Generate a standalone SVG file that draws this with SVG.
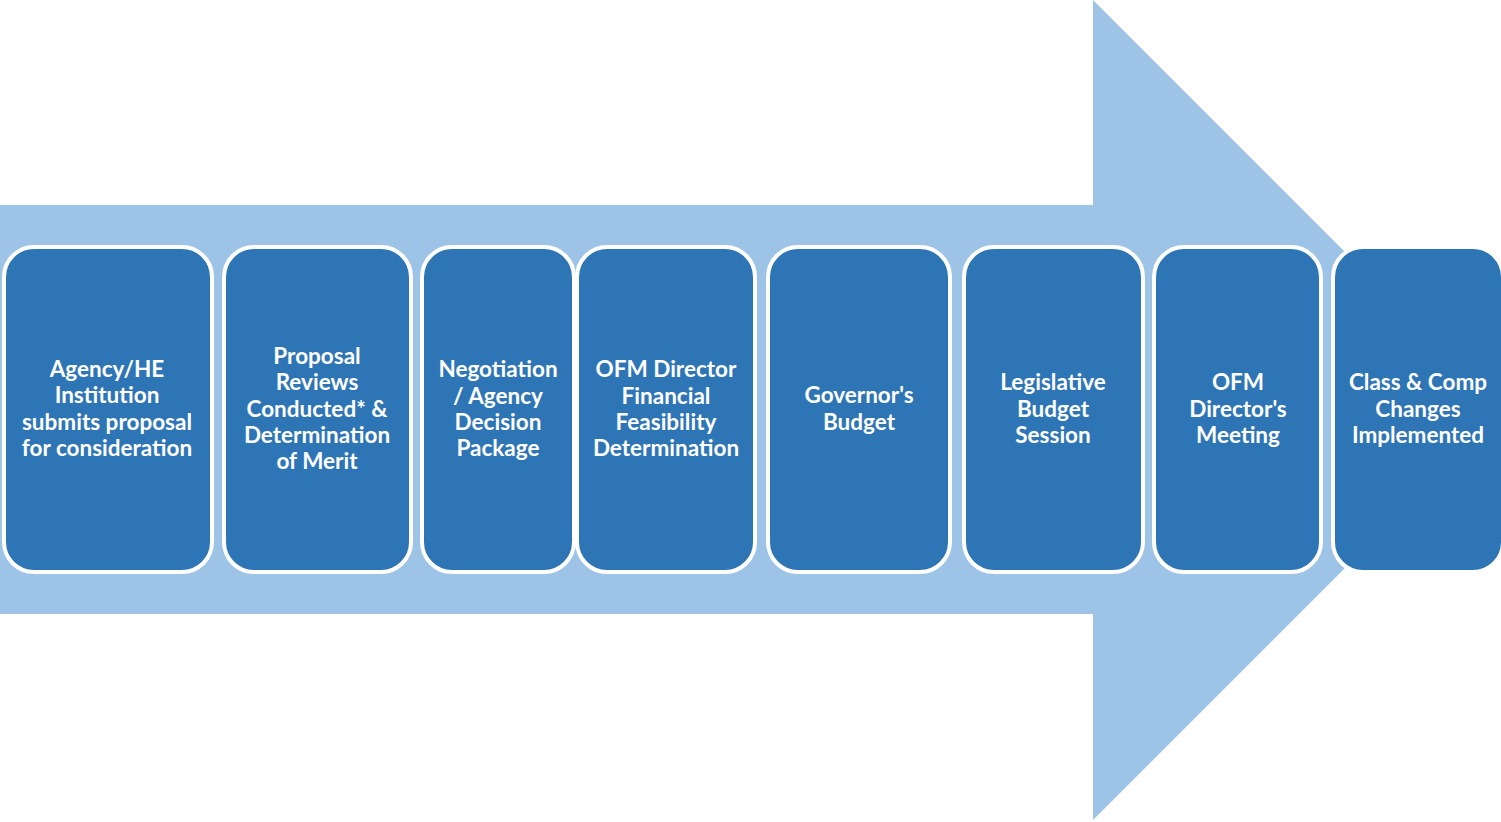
<svg xmlns="http://www.w3.org/2000/svg" width="1501" height="822" viewBox="0 0 1501 822">
<style>
.node rect{fill:#2E75B6;stroke:#FFFFFF;stroke-width:4}
.node text{font-family:Lato,"Open Sans","Liberation Sans",sans-serif;font-weight:bold;font-size:22.5px;fill:#FFFFFF;text-anchor:middle}
</style>
<rect width="1501" height="822" fill="#FFFFFF"/>
<g id="connectors">
<polygon id="arrow" points="0,205 1093,205 1093,0 1503,410 1093,820 1093,614 0,614" fill="#9DC3E6"/>
</g>
<g id="n1" class="node"><rect x="4" y="247" width="208" height="325" rx="30"/>
<text x="107"><tspan x="107" y="377">Agency/HE</tspan><tspan x="107" y="403">Institution</tspan><tspan x="107" y="430">submits proposal</tspan><tspan x="107" y="456">for consideration</tspan></text></g>
<g id="n2" class="node"><rect x="224" y="247" width="187" height="325" rx="30"/>
<text x="317"><tspan x="317" y="364">Proposal</tspan><tspan x="317" y="390">Reviews</tspan><tspan x="317" y="417">Conducted* &amp;</tspan><tspan x="317" y="443">Determination</tspan><tspan x="317" y="469">of Merit</tspan></text></g>
<g id="n3" class="node"><rect x="422" y="247" width="152" height="325" rx="30"/>
<text x="498"><tspan x="498" y="377">Negotiation</tspan><tspan x="498" y="404">/ Agency</tspan><tspan x="498" y="430">Decision</tspan><tspan x="498" y="456">Package</tspan></text></g>
<g id="n4" class="node"><rect x="577" y="247" width="178" height="325" rx="30"/>
<text x="666"><tspan x="666" y="377">OFM Director</tspan><tspan x="666" y="404">Financial</tspan><tspan x="666" y="430">Feasibility</tspan><tspan x="666" y="456">Determination</tspan></text></g>
<g id="n5" class="node"><rect x="768" y="247" width="182" height="325" rx="30"/>
<text x="859"><tspan x="859" y="403">Governor's</tspan><tspan x="859" y="430">Budget</tspan></text></g>
<g id="n6" class="node"><rect x="964" y="247" width="179" height="325" rx="30"/>
<text x="1053"><tspan x="1053" y="390">Legislative</tspan><tspan x="1053" y="417">Budget</tspan><tspan x="1053" y="443">Session</tspan></text></g>
<g id="n7" class="node"><rect x="1154" y="247" width="167" height="325" rx="30"/>
<text x="1238"><tspan x="1238" y="390">OFM</tspan><tspan x="1238" y="417">Director's</tspan><tspan x="1238" y="443">Meeting</tspan></text></g>
<g id="n8" class="node"><rect x="1333" y="247" width="170" height="325" rx="30"/>
<text x="1418"><tspan x="1418" y="390">Class &amp; Comp</tspan><tspan x="1418" y="417">Changes</tspan><tspan x="1418" y="443">Implemented</tspan></text></g>
</svg>
